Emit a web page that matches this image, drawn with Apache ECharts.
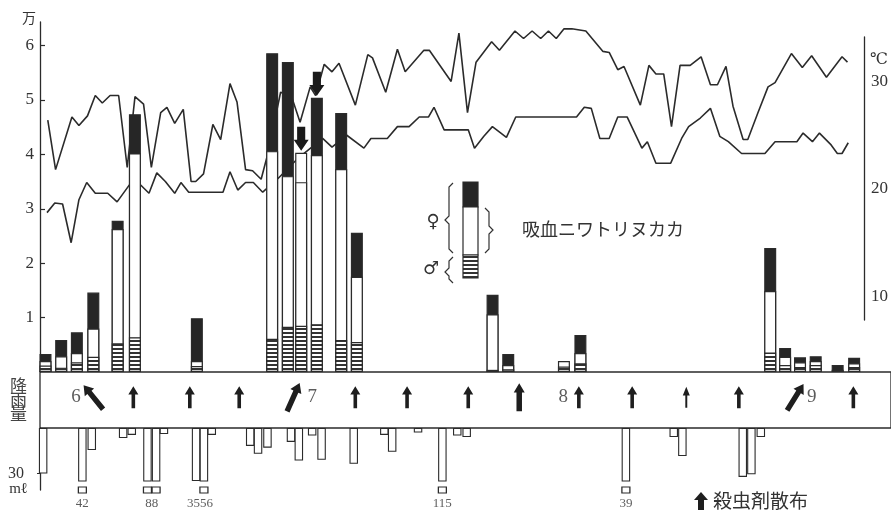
<!DOCTYPE html>
<html><head><meta charset="utf-8">
<script src="https://cdn.jsdelivr.net/npm/echarts@6/dist/echarts.min.js"></script>
<style>html,body{margin:0;padding:0;background:#fff}#c{width:891px;height:513px}</style>
</head><body><div id="c"></div>
<script>
// ===== DATA (x = days counted from 31 May; day 1 = 1 June) =====
// sampling days for the midge counts (unit: 10,000 = 万)
const barDays     = [0.7, 2.7, 4.7, 6.8, 9.9, 12.1, 20.0, 29.6, 31.6, 33.3, 35.3, 38.4, 40.4, 57.7, 59.7, 66.8, 68.9, 93.1, 95.0, 96.9, 98.9, 101.7, 103.8];
const maleCounts  = [0.12, 0.08, 0.18, 0.28, 0.53, 0.64, 0.11, 0.61, 0.83, 0.85, 0.88, 0.59, 0.55, 0.04, 0.05, 0.10, 0.16, 0.36, 0.13, 0.09, 0.13, 0.02, 0.09];
const femaleUnfed = [0.08, 0.21, 0.17, 0.52, 2.10, 3.38, 0.09, 3.45, 2.77, 2.64, 3.11, 3.14, 1.20, 1.02, 0.08, 0.10, 0.19, 1.13, 0.15, 0.09, 0.07, 0.02, 0.07];
const femaleFed   = [0.13, 0.30, 0.38, 0.66, 0.15, 0.72, 0.79, 1.80, 2.10, null, 1.05, 1.03, 0.81, 0.36, 0.20, null, 0.33, 0.79, 0.16, 0.09, 0.09, 0.09, 0.10];
const openBoxTop  = [null, null, null, null, null, null, null, null, null, 0.54, null, null, null, null, null, null, null, null, null, null, null, null, null];
const arrowedBars = [9, 10];

// daily max / min temperature (°C), [day, value]
const tempHigh = [[1.0,26.4],[2.0,21.8],[4.1,26.7],[5.0,25.9],[6.1,26.8],[7.1,28.7],[8.0,28.0],[9.0,28.7],[10.1,28.7],[11.2,22.0],[12.2,28.6],[13.3,27.9],[14.3,22.0],[15.5,27.1],[16.3,27.6],[17.3,26.1],[18.4,27.4],[19.4,20.7],[20.0,20.7],[21.0,21.4],[22.2,26.0],[23.2,24.6],[24.4,29.8],[25.3,28.1],[26.4,21.8],[27.3,21.7],[28.4,20.9],[29.3,23.4],[30.9,29.0],[32.3,28.6],[33.4,26.2],[34.7,29.5],[35.4,28.7],[36.5,31.6],[37.5,30.9],[38.4,31.7],[40.5,27.8],[42.1,32.5],[42.7,32.2],[44.4,29.0],[45.9,33.0],[46.9,30.9],[49.3,32.9],[50.0,32.9],[52.8,30.0],[53.8,34.5],[54.9,27.1],[56.0,31.8],[58.0,33.7],[59.0,32.9],[61.0,34.7],[62.1,34.0],[63.2,34.7],[64.3,34.0],[65.3,34.7],[66.3,34.0],[67.3,34.9],[68.3,34.9],[70.1,34.7],[72.3,32.8],[73.1,32.7],[74.2,31.1],[75.0,31.4],[77.1,27.8],[78.2,31.5],[79.1,30.7],[80.1,30.7],[81.1,25.8],[82.2,31.5],[83.5,31.5],[84.9,32.3],[86.1,29.7],[87.0,29.7],[88.1,31.4],[89.0,27.7],[90.3,24.6],[90.9,24.6],[92.2,27.1],[93.5,29.5],[94.4,29.9],[96.5,32.6],[97.9,31.3],[99.1,32.4],[101.0,30.4],[103.0,32.3],[103.7,31.8]];
const tempLow = [[0.9,17.8],[1.9,18.7],[2.9,18.6],[4.0,15.0],[5.0,19.0],[6.0,20.6],[7.1,19.6],[8.7,19.6],[9.9,18.8],[11.6,20.5],[12.6,20.6],[14.0,19.6],[15.0,21.5],[16.1,20.7],[17.3,19.6],[18.1,20.6],[19.1,19.7],[23.5,19.7],[24.4,21.6],[25.4,19.9],[26.4,20.6],[27.4,20.6],[28.6,19.7],[30.6,21.0],[33.2,22.9],[36.3,24.7],[37.5,23.9],[39.4,25.0],[41.6,23.8],[42.5,24.7],[44.6,24.7],[45.9,25.8],[47.4,25.8],[48.7,26.7],[49.9,26.7],[50.6,27.6],[51.9,25.5],[53.4,25.5],[55.0,25.5],[55.8,23.8],[57.0,24.9],[58.1,25.8],[59.9,24.8],[61.1,26.7],[68.9,26.7],[69.9,27.6],[70.8,27.5],[71.9,24.7],[73.1,24.7],[74.2,26.7],[75.4,26.7],[77.3,23.8],[78.0,24.4],[79.1,22.4],[81.0,22.4],[82.4,24.7],[83.3,25.8],[84.8,26.6],[86.1,27.5],[87.3,24.9],[88.4,24.4],[90.1,23.3],[93.1,23.3],[94.4,24.4],[95.6,24.4],[97.2,24.4],[98.0,25.2],[99.2,24.4],[100.1,25.2],[101.6,24.1],[102.4,23.3],[103.0,23.3],[103.8,24.3]];

// rainfall (mℓ)
const rainDays = [0.4, 5.4, 6.6, 10.6, 11.7, 13.7, 14.8, 15.8, 19.9, 20.9, 21.9, 26.8, 27.8, 29.0, 32.0, 33.0, 34.7, 35.9, 40.0, 43.9, 44.9, 48.2, 51.3, 53.2, 54.4, 74.7, 80.8, 81.9, 89.6, 90.7, 91.9];
const rainMm   = [30, 42, 14.5, 6.6, 4.6, 88, 88, 4, 35, 56, 4.6, 11.8, 17, 13, 9.2, 21.5, 5, 21, 23.6, 4.6, 15.7, 3, 115, 5, 6, 39, 6, 18.5, 32.3, 30.5, 6];
const overLabelDays  = [5.4, 14.25, 20.4, 51.3, 74.7];
const overLabelTexts = ['42', '88', '3556', '115', '39'];

// insecticide spraying (殺虫剤散布) and month marks
const sprayDays   = [6.8, 11.9, 19.1, 25.4, 32.3, 40.2, 46.8, 54.6, 61.1, 68.7, 75.5, 82.4, 89.1, 96.3, 103.7];
const sprayAngles = [39, 0, 0, 0, -24, 0, 0, 0, 0, 0, 0, 0, 0, -32, 0];
const sprayKinds  = ['diag','n','n','n','diag','n','n','n','thick','n','n','thin','n','diag','n'];
const monthDays   = [4.6, 34.7, 66.7, 98.4];
const monthNames  = ['6', '7', '8', '9'];

// ===== STYLE / LAYOUT =====
const PLOT_W = 851;           // width of the day axis in px (grid left 40 → right edge)
const DAY_MAX = 108.5;
const TEMP_W = 830;           // temperature grid ends at its axis (x = 870)
const RAIN_CAP = 35.3;
const INK = '#2b2b2b';
const SERIF = "'Liberation Serif','DejaVu Serif',serif";
const JP = "'Noto Sans CJK JP','Noto Sans CJK SC',sans-serif";
const ARROWS = {
  n:     {symbol: 'path://M5,0 L10,9 L6.8,9 L6.8,24 L3.2,24 L3.2,9 L0,9 Z', size: [10, 22]},
  thick: {symbol: 'path://M5,0 L10,8 L7.5,8 L7.5,24 L2.5,24 L2.5,8 L0,8 Z', size: [11, 28]},
  thin:  {symbol: 'path://M5,0 L10,10 L6.4,10 L6.4,24 L3.6,24 L3.6,10 L0,10 Z', size: [7, 21]},
  diag:  {symbol: 'path://M6,0 L12,9 L8.7,9 L8.7,30 L3.3,30 L3.3,9 L0,9 Z', size: [12, 31]}
};
const DOWN_ARROW = 'path://M2.3,0 L7.7,0 L7.7,12 L10,12 L5,22 L0,12 L2.3,12 Z';

const hatchCanvas = (function () {
  const c = document.createElement('canvas'); c.width = 4; c.height = 4;
  const g = c.getContext('2d');
  g.fillStyle = '#fff'; g.fillRect(0, 0, 4, 4);
  g.fillStyle = '#333'; g.fillRect(0, 0, 4, 2);
  return c;
})();
const hatchFill = {image: hatchCanvas, repeat: 'repeat'};

// cumulative tops for overlapping bars
const cumMale  = maleCounts.slice();
const cumWhite = maleCounts.map((v, i) => +(v + femaleUnfed[i]).toFixed(3));
const cumBlack = femaleFed.map((v, i) => v == null ? null : +(cumWhite[i] + v).toFixed(3));
const cumBox   = openBoxTop.map((v, i) => v == null ? null : +(cumWhite[i] + v).toFixed(3));
const toPts = ys => barDays.map((d, i) => [d, ys[i] == null ? '-' : ys[i]]);

const barBase = {
  type: 'bar', xAxisIndex: 0, yAxisIndex: 0, barWidth: 12, barGap: '-100%', z: 3,
  itemStyle: {borderColor: INK, borderWidth: 1.2}, silent: true
};

function brace(x, y0, y1, ym, dir) {
  const d = dir * 4;
  return {type: 'polyline', shape: {points: [[x + d, y0], [x, y0 + 4], [x, ym - 4], [x - d, ym], [x, ym + 4], [x, y1 - 4], [x + d, y1]]},
    style: {stroke: '#333', lineWidth: 1.2, fill: null}};
}

const chart = echarts.init(document.getElementById('c'), null, {renderer: 'canvas'});
const xAx = (i, max) => ({gridIndex: i, type: 'value', min: 0, max: max, show: false});

chart.setOption({
  animation: false,
  backgroundColor: '#fff',
  grid: [
    {left: 40, right: 0, top: 22, bottom: 141},
    {left: 40, right: 891 - 40 - TEMP_W, top: 37, bottom: 193},
    {left: 40, right: 0, top: 372, bottom: 85, show: true, borderColor: INK, borderWidth: 1.3, backgroundColor: 'transparent'},
    {left: 40, right: 0, top: 428, bottom: 23},
    {left: 40, right: 0, top: 482, bottom: 0}
  ],
  xAxis: [xAx(0, DAY_MAX), xAx(1, DAY_MAX * TEMP_W / PLOT_W), xAx(2, DAY_MAX), xAx(3, DAY_MAX), xAx(4, DAY_MAX)],
  yAxis: [
    {gridIndex: 0, type: 'value', min: 0, max: 6.434, position: 'left',
     axisLine: {show: true, onZero: false, lineStyle: {color: INK, width: 1.3}},
     axisTick: {show: true, inside: true, length: 5, customValues: [1,2,3,4,5,6], lineStyle: {color: INK, width: 1.2}},
     axisLabel: {customValues: [1,2,3,4,5,6], formatter: v => ([1,2,3,4,5,6].includes(v) ? String(v) : ''),
                 fontFamily: SERIF, fontSize: 17, color: '#333', margin: 6},
     splitLine: {show: false},
     name: '万', nameLocation: 'end', nameGap: -3,
     nameTextStyle: {fontFamily: JP, fontSize: 14, color: '#333', align: 'right', padding: [0, 4, 0, 0]}},
    {gridIndex: 1, type: 'value', min: 7.81, max: 34.14, position: 'right',
     axisLine: {show: true, onZero: false, lineStyle: {color: INK, width: 1.3}},
     axisTick: {show: false},
     axisLabel: {customValues: [10, 20, 30], formatter: v => ([10,20,30].includes(v) ? String(v) : ''),
                 fontFamily: SERIF, fontSize: 17, color: '#333', margin: 7},
     splitLine: {show: false},
     name: '℃', nameLocation: 'end', nameGap: -23,
     nameTextStyle: {fontFamily: SERIF, fontSize: 16, color: '#333', align: 'left', verticalAlign: 'middle', padding: [0, 0, 0, 6]}},
    {gridIndex: 2, type: 'value', min: 0, max: 1, axisLine: {show: false, onZero: false}, axisTick: {show: false},
     axisLabel: {show: false}, splitLine: {show: false},
     name: '降\n雨\n量', nameLocation: 'middle', nameRotate: 0, nameGap: 13,
     nameTextStyle: {fontFamily: JP, fontSize: 17, lineHeight: 14, color: '#444', padding: [16, 0, 0, 0]}},
    {gridIndex: 3, type: 'value', min: 0, max: 40.9, inverse: true,
     axisLine: {show: true, onZero: false, lineStyle: {color: INK, width: 1.3}},
     axisTick: {show: true, length: 3, customValues: [30], lineStyle: {color: INK}},
     axisLabel: {customValues: [30], formatter: v => (v === 30 ? '30' : ''), fontFamily: SERIF, fontSize: 16, color: '#333', margin: 16},
     splitLine: {show: false},
     name: 'mℓ', nameLocation: 'end', nameGap: -2,
     nameTextStyle: {fontFamily: SERIF, fontSize: 15, color: '#333', align: 'right', verticalAlign: 'middle', padding: [0, 12, 0, 0]}},
    {gridIndex: 4, type: 'value', min: 0, max: 1, show: false}
  ],
  series: [
    {type: 'line', xAxisIndex: 1, yAxisIndex: 1, data: tempHigh, symbol: 'none', clip: false, z: 2,
     lineStyle: {color: INK, width: 1.6}, silent: true},
    {type: 'line', xAxisIndex: 1, yAxisIndex: 1, data: tempLow, symbol: 'none', clip: false, z: 2,
     lineStyle: {color: INK, width: 1.6}, silent: true},
    Object.assign({}, barBase, {name: 'box', data: toPts(cumBox), itemStyle: {color: '#fff', borderColor: INK, borderWidth: 1.2}}),
    Object.assign({}, barBase, {name: '♀ fed', data: toPts(cumBlack), itemStyle: {color: '#262626', borderColor: INK, borderWidth: 1.2}}),
    Object.assign({}, barBase, {name: '♀', data: toPts(cumWhite), itemStyle: {color: '#fff', borderColor: INK, borderWidth: 1.2}}),
    Object.assign({}, barBase, {name: '♂', data: toPts(cumMale), itemStyle: {color: hatchFill, borderColor: INK, borderWidth: 1.2}}),
    {type: 'scatter', xAxisIndex: 0, yAxisIndex: 0, z: 4, silent: true,
     data: arrowedBars.map(i => [barDays[i], cumBlack[i] != null ? cumBlack[i] : cumBox[i]]),
     symbol: DOWN_ARROW, symbolSize: [15, 24], symbolOffset: [0, -14], itemStyle: {color: '#1a1a1a', opacity: 1}},
    {type: 'scatter', xAxisIndex: 2, yAxisIndex: 2, z: 4, silent: true,
     data: sprayDays.map((d, i) => ({value: [d, 0.55], symbol: ARROWS[sprayKinds[i]].symbol,
       symbolSize: ARROWS[sprayKinds[i]].size, symbolRotate: sprayAngles[i]})),
     itemStyle: {color: '#1e1e1e', opacity: 1}},
    {type: 'scatter', xAxisIndex: 2, yAxisIndex: 2, z: 4, silent: true, symbolSize: 0,
     data: monthDays.map((d, i) => ({value: [d, 0.55], name: monthNames[i]})),
     label: {show: true, position: 'inside', formatter: p => p.name, fontFamily: SERIF, fontSize: 19, color: '#333'}},
    {type: 'bar', xAxisIndex: 3, yAxisIndex: 3, barWidth: 8.5, silent: true,
     data: rainDays.map((d, i) => [d, Math.min(rainMm[i], RAIN_CAP)]),
     itemStyle: {color: '#fff', borderColor: INK, borderWidth: 1.1}},
    {type: 'scatter', xAxisIndex: 4, yAxisIndex: 4, silent: true, symbol: 'rect', symbolSize: [8, 6],
     data: rainDays.map((d, i) => rainMm[i] > RAIN_CAP ? [d, 0.74] : null).filter(Boolean),
     itemStyle: {color: '#fff', borderColor: INK, borderWidth: 1.1, opacity: 1}},
    {type: 'scatter', xAxisIndex: 4, yAxisIndex: 4, silent: true, symbolSize: 0,
     data: overLabelDays.map((d, i) => ({value: [d, 0.30], name: overLabelTexts[i]})),
     label: {show: true, position: 'inside', formatter: p => p.name, fontFamily: SERIF, fontSize: 13, color: '#333'}}
  ],
  graphic: {elements: [
    {type: 'rect', shape: {x: 463, y: 182, width: 15, height: 25}, style: {fill: '#262626', stroke: INK, lineWidth: 1.2}},
    {type: 'rect', shape: {x: 463, y: 207, width: 15, height: 48}, style: {fill: '#fff', stroke: INK, lineWidth: 1.2}},
    {type: 'rect', shape: {x: 463, y: 255, width: 15, height: 23}, style: {fill: hatchFill, stroke: INK, lineWidth: 1.2}},
    brace(449, 183, 253, 220, 1),
    brace(449, 257, 283, 272, 1),
    brace(489, 208, 253, 230, -1),
    {type: 'text', x: 433, y: 222, style: {text: '♀', fontFamily: "'DejaVu Sans'", fontSize: 18, fill: '#333', align: 'center', verticalAlign: 'middle'}},
    {type: 'text', x: 431, y: 269, style: {text: '♂', fontFamily: "'DejaVu Sans'", fontSize: 18, fill: '#333', align: 'center', verticalAlign: 'middle'}},
    {type: 'text', x: 522, y: 229, style: {text: '吸血ニワトリヌカカ', fontFamily: JP, fontSize: 18, fill: '#333', verticalAlign: 'middle'}},
    {type: 'polygon', shape: {points: [[701, 492], [708, 500], [704, 500], [704, 510], [698, 510], [698, 500], [694, 500]]}, style: {fill: '#1e1e1e'}},
    {type: 'text', x: 713, y: 501, style: {text: '殺虫剤散布', fontFamily: JP, fontSize: 19, fill: '#333', verticalAlign: 'middle'}}
  ]}
});
</script>
</body></html>
